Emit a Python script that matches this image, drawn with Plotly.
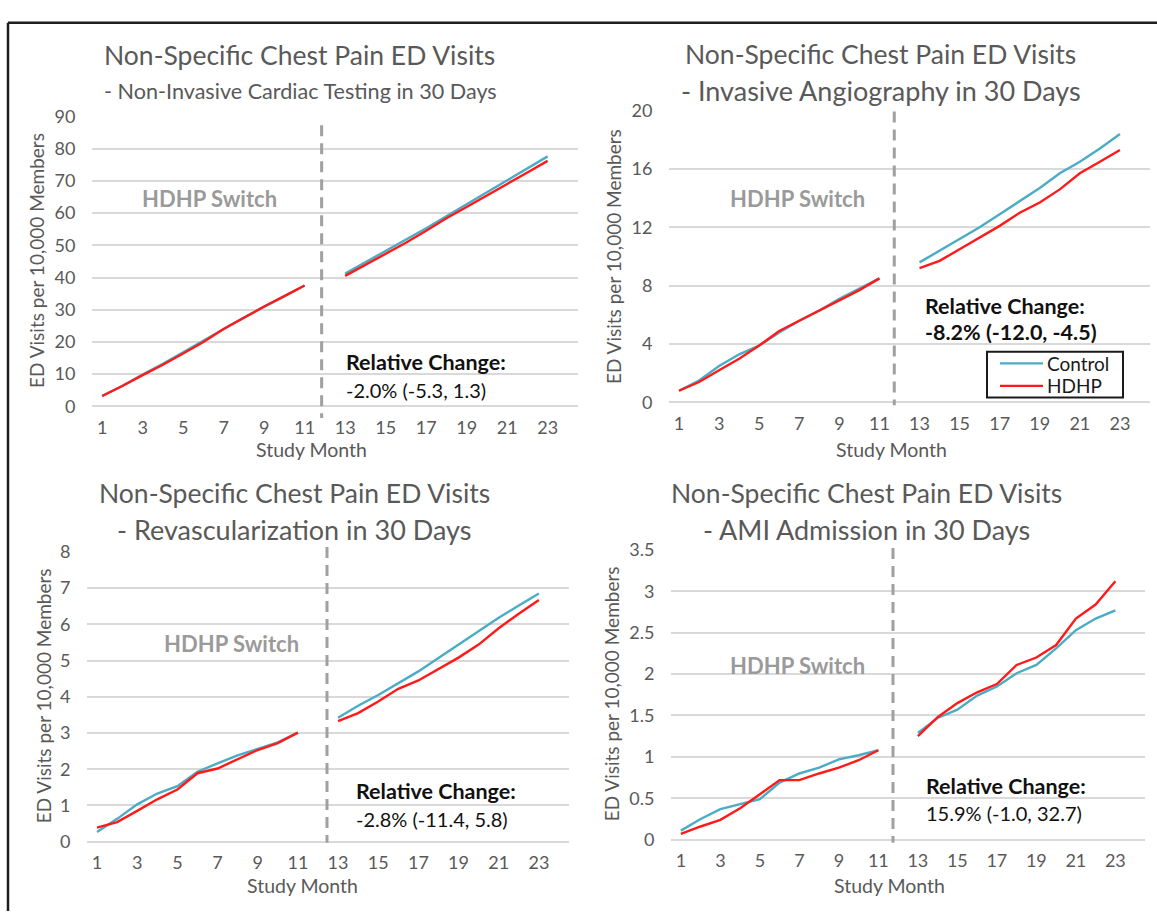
import plotly.graph_objects as go

W, H = 1157, 921

# ---------------- data ----------------
months_pre = [1, 2, 3, 4, 5, 6, 7, 8, 9, 10, 11]
months_post = [13, 14, 15, 16, 17, 18, 19, 20, 21, 22, 23]
tick_months = [1, 3, 5, 7, 9, 11, 13, 15, 17, 19, 21, 23]

# Panel 1: Non-Invasive Cardiac Testing
p1_control_pre = [3.2, 6.4, 9.9, 13.2, 16.8, 20.3, 24.0, 27.6, 31.0, 34.2, 37.5]
p1_hdhp_pre = [3.2, 6.3, 9.7, 12.9, 16.4, 20.0, 24.0, 27.6, 31.0, 34.2, 37.5]
p1_control_post = [41.2, 44.7, 48.3, 51.8, 55.3, 59.0, 62.7, 66.3, 70.0, 73.7, 77.6]
p1_hdhp_post = [40.5, 43.9, 47.4, 50.8, 54.5, 58.4, 61.9, 65.4, 69.0, 72.6, 76.2]

# Panel 2: Invasive Angiography
p2_control_pre = [0.8, 1.5, 2.5, 3.3, 3.9, 4.8, 5.6, 6.3, 7.1, 7.8, 8.5]
p2_hdhp_pre = [0.8, 1.4, 2.2, 3.0, 3.9, 4.9, 5.6, 6.3, 7.0, 7.7, 8.5]
p2_control_post = [9.6, 10.4, 11.2, 12.0, 12.9, 13.8, 14.7, 15.7, 16.5, 17.4, 18.4]
p2_hdhp_post = [9.2, 9.7, 10.5, 11.3, 12.1, 13.0, 13.7, 14.6, 15.7, 16.5, 17.3]

# Panel 3: Revascularization
p3_control_pre = [0.27, 0.63, 1.03, 1.33, 1.53, 1.93, 2.16, 2.38, 2.56, 2.74, 3.01]
p3_hdhp_pre = [0.39, 0.54, 0.85, 1.17, 1.44, 1.89, 2.02, 2.27, 2.53, 2.72, 3.01]
p3_control_post = [3.42, 3.75, 4.05, 4.38, 4.70, 5.07, 5.44, 5.80, 6.18, 6.52, 6.85]
p3_hdhp_post = [3.33, 3.55, 3.87, 4.22, 4.45, 4.76, 5.08, 5.44, 5.89, 6.29, 6.67]

# Panel 4: AMI Admission
p4_control_pre = [0.11, 0.25, 0.37, 0.43, 0.49, 0.69, 0.80, 0.87, 0.97, 1.02, 1.08]
p4_hdhp_pre = [0.07, 0.16, 0.24, 0.38, 0.55, 0.72, 0.72, 0.80, 0.87, 0.96, 1.08]
p4_control_post = [1.29, 1.47, 1.57, 1.74, 1.85, 2.01, 2.11, 2.31, 2.53, 2.67, 2.77]
p4_hdhp_post = [1.25, 1.48, 1.65, 1.78, 1.88, 2.11, 2.20, 2.35, 2.67, 2.84, 3.12]

titles_line1 = ["Non-Specific Chest Pain ED Visits"] * 4
titles_line2 = [
    "- Non-Invasive Cardiac Testing in 30 Days",
    "- Invasive Angiography in 30 Days",
    "- Revascularization in 30 Days",
    "- AMI Admission in 30 Days",
]
rel_change_values = [
    "-2.0% (-5.3, 1.3)",
    "-8.2% (-12.0, -4.5)",
    "-2.8% (-11.4, 5.8)",
    "15.9% (-1.0, 32.7)",
]
legend_names = ["Control", "HDHP"]
y_max = [90, 20, 8, 3.5]
y_dtick = [10, 4, 1, 0.5]
switch_month = [11.84, 11.74, 12.45, 11.74]

series = [
    (p1_control_pre, p1_hdhp_pre, p1_control_post, p1_hdhp_post),
    (p2_control_pre, p2_hdhp_pre, p2_control_post, p2_hdhp_post),
    (p3_control_pre, p3_hdhp_pre, p3_control_post, p3_hdhp_post),
    (p4_control_pre, p4_hdhp_pre, p4_control_post, p4_hdhp_post),
]

# ---------------- layout geometry (pixels) ----------------
areas = [
    (92, 578, 107, 404),
    (669, 1150, 101, 400),
    (87, 569, 553, 850),
    (671, 1145, 551, 848),
]


def px(x):
    return x / W


def py(y):
    return 1 - y / H


CONTROL = "#4bacc6"
HDHP = "#ff1a1a"
GRAY_TXT = "#595959"
FONT = "Lato"

fig = go.Figure()

for i, (cpre, hpre, cpost, hpost) in enumerate(series):
    k = "" if i == 0 else str(i + 1)
    xs = months_pre + [12] + months_post
    fig.add_trace(go.Scatter(
        x=xs, y=cpre + [None] + cpost, mode="lines", name=legend_names[0],
        line=dict(color=CONTROL, width=2.4), xaxis="x" + k, yaxis="y" + k,
        showlegend=False))
    fig.add_trace(go.Scatter(
        x=xs, y=hpre + [None] + hpost, mode="lines", name=legend_names[1],
        line=dict(color=HDHP, width=2.4), xaxis="x" + k, yaxis="y" + k,
        showlegend=False))

layout = dict(
    width=W, height=H,
    margin=dict(l=0, r=0, t=0, b=0),
    paper_bgcolor="white", plot_bgcolor="white",
    font=dict(family=FONT, color=GRAY_TXT),
    showlegend=False,
)

shapes = []
annotations = []

dash_extent = [(116, 416), (102, 403), (548, 851), (549, 851)]
title_pos = [
    # (x, anchor, y1, y2, size2)
    (102, "left", 44, 81, 21.6),
    (881, "center", 43, 80, 27),
    (294, "center", 493, 530, 27),
    (866, "center", 493, 530, 27),
]
ytitle_pos = [(37, 255), (613, 251), (43, 701), (611, 699)]
xtitle_pos = [(311, 448), (891, 448), (302, 895), (889, 895)]
switch_pos = [(209, 191), (797, 191), (231, 647), (797, 669)]
rel_pos = [(344, 359, 387), (923, 301, 328), (354, 798, 827), (924, 793, 821)]

for i in range(4):
    k = "" if i == 0 else str(i + 1)
    x0, x1, yt, yb = areas[i]
    layout["xaxis" + k] = dict(
        domain=[px(x0), px(x1)], range=[0.5, 24.5], tickmode="array",
        tickvals=tick_months, ticktext=[str(m) for m in tick_months],
        showgrid=False, zeroline=False, showline=False,
        ticks="outside", ticklen=5, tickcolor="rgba(0,0,0,0)",
        tickfont=dict(family=FONT, size=18, color=GRAY_TXT),
        anchor="y" + k, fixedrange=True,
    )
    layout["yaxis" + k] = dict(
        domain=[py(yb), py(yt)], range=[0, y_max[i]], dtick=y_dtick[i], tick0=0,
        showgrid=True, gridcolor="#d9d9d9", gridwidth=1.6,
        zeroline=True, zerolinecolor="#d9d9d9", zerolinewidth=1.6,
        showline=False, ticks="outside", ticklen=12, tickcolor="rgba(0,0,0,0)",
        tickfont=dict(family=FONT, size=18, color=GRAY_TXT),
        anchor="x" + k, fixedrange=True,
    )
    ya, yb2 = dash_extent[i]
    shapes.append(dict(
        type="line", xref="x" + k, yref="paper",
        x0=switch_month[i], x1=switch_month[i], y0=py(ya), y1=py(yb2),
        line=dict(color="#a0a0a0", width=3, dash="11px,7px"), layer="above"))

    tx, anchor, ty1, ty2, s2 = title_pos[i]
    annotations.append(dict(
        text=titles_line1[i], x=px(tx), y=py(ty1), xref="paper", yref="paper",
        xanchor=anchor, yanchor="middle", showarrow=False,
        font=dict(family=FONT, size=26.5, color=GRAY_TXT)))
    annotations.append(dict(
        text=titles_line2[i], x=px(tx), y=py(ty2), xref="paper", yref="paper",
        xanchor=anchor, yanchor="middle", showarrow=False,
        font=dict(family=FONT, size=s2, color=GRAY_TXT)))

    ax, ay = ytitle_pos[i]
    annotations.append(dict(
        text="ED Visits per 10,000 Members", x=px(ax), y=py(ay),
        xref="paper", yref="paper", xanchor="center", yanchor="middle",
        textangle=-90, showarrow=False,
        font=dict(family=FONT, size=19, color=GRAY_TXT)))

    bx, by = xtitle_pos[i]
    annotations.append(dict(
        text="Study Month", x=px(bx), y=py(by), xref="paper", yref="paper",
        xanchor="center", yanchor="middle", showarrow=False,
        font=dict(family=FONT, size=19.5, color=GRAY_TXT)))

    sx, sy = switch_pos[i]
    annotations.append(dict(
        text="<b>HDHP Switch</b>", x=px(sx), y=py(sy), xref="paper", yref="paper",
        xanchor="center", yanchor="middle", showarrow=False,
        font=dict(family=FONT, size=22, color="#9a9a9a")))

    rx, ry1, ry2 = rel_pos[i]
    annotations.append(dict(
        text="<b>Relative Change:</b>", x=px(rx), y=py(ry1), xref="paper", yref="paper",
        xanchor="left", yanchor="middle", showarrow=False,
        font=dict(family=FONT, size=21.5, color="#111111")))
    val = rel_change_values[i]
    annotations.append(dict(
        text=("<b>%s</b>" % val) if i == 1 else val, x=px(rx), y=py(ry2),
        xref="paper", yref="paper", xanchor="left", yanchor="middle",
        showarrow=False,
        font=dict(family=FONT, size=21.5 if i == 1 else 20, color="#111111")))

# legend box (drawn in panel 2, as in the original)
shapes.append(dict(type="rect", xref="paper", yref="paper",
                   x0=px(987), x1=px(1123), y0=py(348), y1=py(395),
                   line=dict(color="#1a1a1a", width=2), fillcolor="white",
                   layer="above"))
for j, (name, col, ly) in enumerate([(legend_names[0], CONTROL, 360),
                                     (legend_names[1], HDHP, 383)]):
    shapes.append(dict(type="line", xref="paper", yref="paper",
                       x0=px(1000), x1=px(1043), y0=py(ly), y1=py(ly),
                       line=dict(color=col, width=2.4), layer="above"))
    annotations.append(dict(
        text=name, x=px(1045), y=py(ly), xref="paper", yref="paper",
        xanchor="left", yanchor="middle", showarrow=False,
        font=dict(family=FONT, size=19, color="#1a1a1a")))

# outer frame (top and left edges visible)
shapes.append(dict(type="line", xref="paper", yref="paper",
                   x0=px(8), x1=1, y0=py(11), y1=py(11),
                   line=dict(color="#1e1e1e", width=2.5)))
shapes.append(dict(type="line", xref="paper", yref="paper",
                   x0=px(8), x1=px(8), y0=py(11), y1=0,
                   line=dict(color="#1e1e1e", width=2.5)))

layout["shapes"] = shapes
layout["annotations"] = annotations
fig.update_layout(**layout)

fig.write_html("out.html",
               config={"displayModeBar": False},
               post_script="document.body.style.margin='0px';")
